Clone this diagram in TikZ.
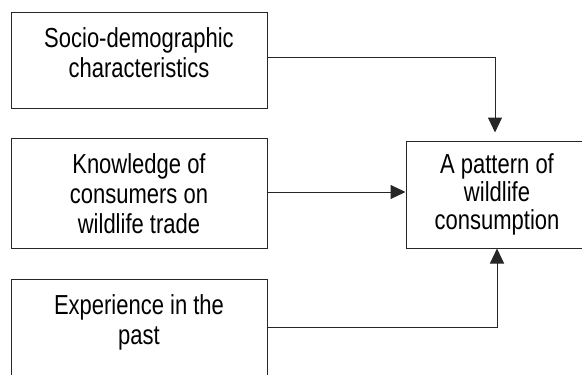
\documentclass[tikz,border=0pt]{standalone}
\usepackage{fontspec}
\setmainfont{Liberation Sans}[FakeStretch=0.8]
\usetikzlibrary{arrows.meta}

\begin{document}
\begin{tikzpicture}[x=1pt, y=-1pt, >={Triangle[length=15pt,width=14pt]},
    box/.style={draw=black!85, line width=1pt, minimum width=256pt, inner sep=0pt},
    txt/.style={align=center, inner sep=0pt, font=\fontsize{27.5}{30}\selectfont},
    link/.style={draw=black!85, line width=1pt, ->}]
  \clip (0,0) rectangle (582,375);

  % left column: the three factors
  \node[box, minimum height=96pt] (socio) at (139,60) {};
  \node[box, minimum height=110pt] (know) at (139,193) {};
  \node[box, minimum height=96pt] (exper) at (139,327) {};

  % right: the outcome
  \node[box, minimum width=182pt, minimum height=107pt] (pattern) at (497,194.5) {};

  % texts
  \node[txt, anchor=north] (sociotxt) at ([yshift=-16pt]socio.north) {Socio-demographic\\characteristics};
  \node[txt, anchor=north] (knowtxt) at ([yshift=-16pt]know.north) {Knowledge of\\consumers on\\wildlife trade};
  \node[txt, anchor=north] (expertxt) at ([yshift=-16pt]exper.north) {Experience in the\\past};
  \node[txt, font=\fontsize{27.5}{28}\selectfont] (patterntxt) at (pattern.center) {A pattern of\\wildlife\\consumption};

  % arrows into the outcome
  \draw[link, shorten >=8pt] ([yshift=3pt]socio.east) -| ([xshift=-2pt]pattern.north);
  \draw[link] ([yshift=1pt]know.east) -- ([yshift=1pt]know.east -| pattern.west);
  \draw[link] (exper.east) -| (pattern.south);
\end{tikzpicture}
\end{document}
